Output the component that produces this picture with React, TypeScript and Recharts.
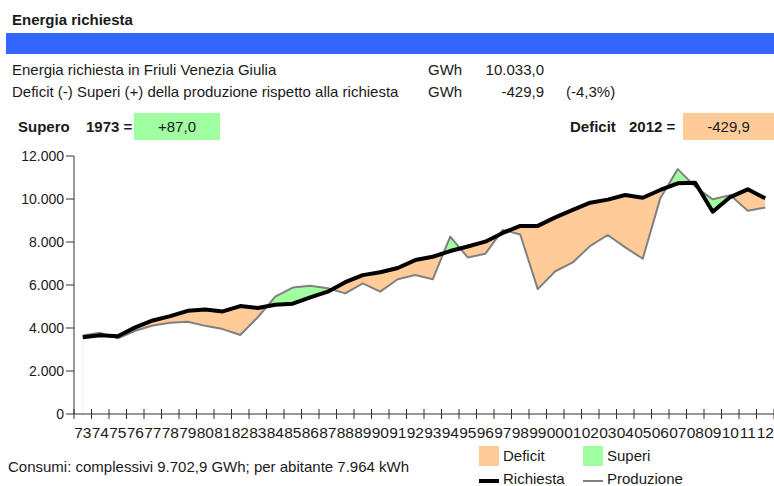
import { useEffect, useRef, useState } from 'react'
import { ComposedChart, Area, Line, XAxis, YAxis, ReferenceLine } from 'recharts'

const YEARS = [
  '73', '74', '75', '76', '77', '78', '79', '80', '81', '82',
  '83', '84', '85', '86', '87', '88', '89', '90', '91', '92',
  '93', '94', '95', '96', '97', '98', '99', '00', '01', '02',
  '03', '04', '05', '06', '07', '08', '09', '10', '11', '12',
]

// GWh
const RICHIESTA = [
  3570, 3665, 3615, 4030, 4350, 4550, 4800, 4860, 4770, 5020,
  4930, 5080, 5130, 5420, 5690, 6130, 6460, 6590, 6790, 7160,
  7315, 7580, 7790, 8015, 8420, 8750, 8750, 9145, 9490, 9830,
  9970, 10185, 10060, 10420, 10730, 10760, 9410, 10090, 10450, 10033,
]

const PRODUZIONE = [
  3657, 3775, 3520, 3870, 4120, 4240, 4290, 4100, 3950, 3675,
  4500, 5460, 5880, 5970, 5845, 5610, 6080, 5690, 6265, 6465,
  6265, 8250, 7280, 7450, 8560, 8350, 5810, 6640, 7050, 7820,
  8325, 7750, 7220, 10030, 11390, 10570, 9985, 10180, 9450, 9603,
]

const Y_TICKS = [0, 2000, 4000, 6000, 8000, 10000, 12000]

const ORANGE = '#FFCC99'
const GREEN = '#A0FFA0'
const BLUE = '#3366FF'
const INK = '#1a1a1a'
const FONT = '"Liberation Sans", Arial, Helvetica, sans-serif'

const data = YEARS.map((year, i) => ({
  i,
  year,
  richiesta: RICHIESTA[i],
  produzione: PRODUZIONE[i],
}))

// tick marks sit on the category boundaries, labels in the middle
const X_TICKS = YEARS.flatMap((_, i) => [i - 0.5, i]).concat(YEARS.length - 0.5)

const thousands = (v: number) => String(v).replace(/\B(?=(\d{3})+(?!\d))/g, '.')

function XTick(props: any) {
  const { x, y, payload } = props
  const v = payload.value
  if (Number.isInteger(v)) {
    return (
      <text x={x} y={y + 16} textAnchor="middle" fontSize={15.5} fontFamily={FONT} fill={INK}>
        {YEARS[v]}
      </text>
    )
  }
  const axisY = y - 8
  return <line x1={x} x2={x} y1={axisY - 5} y2={axisY + 5} stroke="#333" />
}

function EnergyChart() {
  const wrapRef = useRef<HTMLDivElement>(null)
  const [shapes, setShapes] = useState<{ r: string; p: string } | null>(null)

  // deficit/superi fills are cut out of the two area outlines Recharts draws
  useEffect(() => {
    let frame = 0
    let tries = 0
    let last = ''
    const grab = () => {
      const el = wrapRef.current
      const r = el?.querySelector('.area-richiesta .recharts-area-area')?.getAttribute('d')
      const p = el?.querySelector('.area-produzione .recharts-area-area')?.getAttribute('d')
      if (r && p && r + p !== last) {
        last = r + p
        setShapes({ r, p })
      }
      if (tries++ < 60) frame = requestAnimationFrame(grab)
    }
    grab()
    return () => cancelAnimationFrame(frame)
  }, [])

  const both = shapes ? `${shapes.r} ${shapes.p}` : ''

  return (
    <div ref={wrapRef} style={{ position: 'absolute', left: 0, top: 140, width: 774, height: 310 }}>
      <svg width={774} height={310} style={{ position: 'absolute', left: 0, top: 0 }}>
        {shapes && (
          <>
            <defs>
              <clipPath id="below-richiesta">
                <path d={shapes.r} />
              </clipPath>
              <clipPath id="below-produzione">
                <path d={shapes.p} />
              </clipPath>
            </defs>
            <path d={both} fillRule="evenodd" fill={ORANGE} clipPath="url(#below-richiesta)" />
            <path d={both} fillRule="evenodd" fill={GREEN} clipPath="url(#below-produzione)" />
          </>
        )}
      </svg>
      <ComposedChart
        width={774}
        height={310}
        data={data}
        margin={{ top: 16, right: 0, bottom: 0, left: 0 }}
      >
        <XAxis
          dataKey="i"
          type="number"
          domain={[-0.5, YEARS.length - 0.5]}
          ticks={X_TICKS}
          interval={0}
          tickLine={false}
          tick={<XTick />}
          height={36}
          stroke="#333"
        />
        <YAxis
          type="number"
          domain={[0, 12000]}
          ticks={Y_TICKS}
          interval={0}
          width={74}
          tickSize={8}
          tickMargin={2}
          tickFormatter={thousands}
          tick={{ fontSize: 14, fontFamily: FONT, fill: INK }}
          stroke="#333"
        />
        <Area
          className="area-richiesta"
          dataKey="richiesta"
          type="linear"
          fill="none"
          stroke="none"
          isAnimationActive={false}
          activeDot={false}
        />
        <Area
          className="area-produzione"
          dataKey="produzione"
          type="linear"
          fill="none"
          stroke="none"
          isAnimationActive={false}
          activeDot={false}
        />
        <ReferenceLine
          segment={[{ x: 0, y: 0 }, { x: 0, y: PRODUZIONE[0] }]}
          stroke="#e6f7e6"
        />
        <Line
          dataKey="produzione"
          type="linear"
          stroke="#808080"
          strokeWidth={2}
          strokeLinejoin="round"
          dot={false}
          isAnimationActive={false}
        />
        <Line
          dataKey="richiesta"
          type="linear"
          stroke="#000"
          strokeWidth={4}
          strokeLinejoin="round"
          dot={false}
          isAnimationActive={false}
        />
      </ComposedChart>
    </div>
  )
}

const abs = (left: number, top: number, extra: React.CSSProperties = {}): React.CSSProperties => ({
  position: 'absolute',
  left,
  top,
  whiteSpace: 'nowrap',
  lineHeight: '18px',
  ...extra,
})

export default function App() {
  return (
    <div
      style={{
        position: 'absolute',
        left: 0,
        top: 0,
        width: 774,
        height: 486,
        overflow: 'hidden',
        background: '#fff',
        fontFamily: FONT,
        fontSize: 15,
        color: INK,
      }}
    >
      <div style={abs(12, 11, { fontWeight: 'bold' })}>Energia richiesta</div>
      <div style={{ position: 'absolute', left: 6, top: 33, width: 768, height: 21, background: BLUE }} />

      <div style={abs(12, 61)}>Energia richiesta in Friuli Venezia Giulia</div>
      <div style={abs(428, 61)}>GWh</div>
      <div style={abs(444, 61, { width: 100, textAlign: 'right' })}>10.033,0</div>

      <div style={abs(12, 83)}>Deficit (-) Superi (+) della produzione rispetto alla richiesta</div>
      <div style={abs(428, 83)}>GWh</div>
      <div style={abs(444, 83, { width: 100, textAlign: 'right' })}>-429,9</div>
      <div style={abs(566, 83)}>(-4,3%)</div>

      <div style={abs(18, 118, { fontWeight: 'bold' })}>Supero</div>
      <div style={abs(86, 118, { fontWeight: 'bold' })}>1973 =</div>
      <div
        style={abs(134, 113, {
          width: 86,
          height: 27,
          lineHeight: '27px',
          textAlign: 'center',
          background: GREEN,
        })}
      >
        +87,0
      </div>

      <div style={abs(570, 118, { fontWeight: 'bold' })}>Deficit</div>
      <div style={abs(629, 118, { fontWeight: 'bold' })}>2012 =</div>
      <div
        style={abs(683, 113, {
          width: 91,
          height: 27,
          lineHeight: '27px',
          textAlign: 'center',
          background: ORANGE,
        })}
      >
        -429,9
      </div>

      <EnergyChart />

      <div style={abs(8, 458)}>Consumi: complessivi 9.702,9 GWh; per abitante 7.964 kWh</div>

      <div style={{ position: 'absolute', left: 479, top: 446, width: 20, height: 20, background: ORANGE }} />
      <div style={abs(503, 447)}>Deficit</div>
      <div style={{ position: 'absolute', left: 583, top: 446, width: 20, height: 20, background: GREEN }} />
      <div style={abs(607, 447)}>Superi</div>

      <div style={{ position: 'absolute', left: 479, top: 479, width: 20, height: 4, background: '#000' }} />
      <div style={abs(503, 470)}>Richiesta</div>
      <div style={{ position: 'absolute', left: 583, top: 480, width: 20, height: 2, background: '#808080' }} />
      <div style={abs(607, 470)}>Produzione</div>
    </div>
  )
}
